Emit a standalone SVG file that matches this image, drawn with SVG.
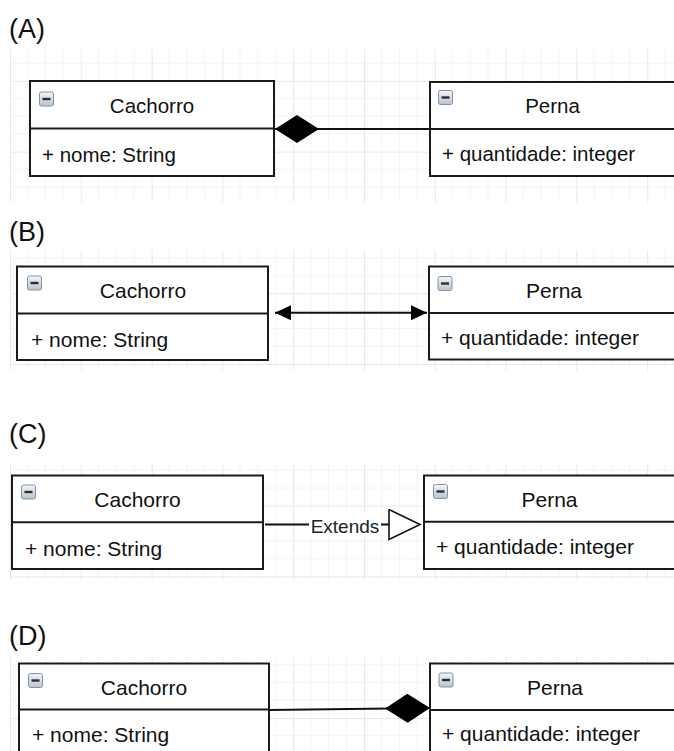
<svg xmlns="http://www.w3.org/2000/svg" width="674" height="751" viewBox="0 0 674 751">
<style>
.title{font-family:"Liberation Sans",Arial,sans-serif;font-size:27px;fill:#111}
.t{font-family:"Liberation Sans",Arial,sans-serif;font-size:21px;fill:#111}
.ta{font-family:"Liberation Sans",Arial,sans-serif;font-size:20.5px;fill:#111}
.box{fill:#fff;stroke:#1a1a1a;stroke-width:2}
.div{stroke:#1a1a1a;stroke-width:2}
.edge{fill:none;stroke:#111;stroke-width:2}
.lbl{font-family:"Liberation Sans",Arial,sans-serif;font-size:19px;fill:#222}
</style>
<defs>
<pattern id="grid" patternUnits="userSpaceOnUse" x="10" y="10" width="70.8" height="70.8">
<path d="M17.7 0V70.8M35.4 0V70.8M53.1 0V70.8M0 17.7H70.8M0 35.4H70.8M0 53.1H70.8" stroke="#f3f3f3" stroke-width="1" fill="none"/>
<path d="M0.5 0V70.8M0 0.5H70.8" stroke="#e8e8e8" stroke-width="1" fill="none"/>
</pattern>
<linearGradient id="ig" x1="0" y1="0" x2="0" y2="1">
<stop offset="0" stop-color="#f4f6f8"/>
<stop offset="1" stop-color="#b9c3cf"/>
</linearGradient>
<g id="minus">
<rect x="0.5" y="0.5" width="14" height="14" rx="2" fill="url(#ig)" stroke="#8192a6" stroke-width="1"/>
<rect x="3.5" y="6.3" width="8" height="2.4" fill="#2d2d2d"/>
</g>
<marker id="diamond" markerUnits="userSpaceOnUse" viewBox="0 0 44 28" refX="0" refY="14" markerWidth="44" markerHeight="28" orient="auto">
<polygon points="0,14 22,0 44,14 22,28" fill="#000"/>
</marker>
<marker id="diamondEnd" markerUnits="userSpaceOnUse" viewBox="0 0 45 29" refX="45" refY="14.5" markerWidth="45" markerHeight="29" orient="auto">
<polygon points="0,14.5 22.5,0 45,14.5 22.5,29" fill="#000"/>
</marker>
<marker id="arrow" markerUnits="userSpaceOnUse" viewBox="0 0 16 15" refX="16" refY="7.5" markerWidth="16" markerHeight="15" orient="auto-start-reverse">
<polygon points="0,0 16,7.5 0,15" fill="#000"/>
</marker>
<marker id="tri" markerUnits="userSpaceOnUse" viewBox="0 0 34 34" refX="1" refY="16" markerWidth="34" markerHeight="34" orient="auto">
<polygon points="1,1 1,31 32,16" fill="#fff" stroke="#111" stroke-width="1.6"/>
</marker>
</defs>
<rect width="674" height="751" fill="#fff"/>

<!-- grids -->
<rect x="10" y="49" width="664" height="153" fill="url(#grid)"/>
<rect x="10" y="250" width="664" height="120" fill="url(#grid)"/>
<rect x="10" y="463" width="664" height="117" fill="url(#grid)"/>
<rect x="10" y="657" width="664" height="94" fill="url(#grid)"/>

<!-- titles -->
<text class="title" x="9" y="38">(A)</text>
<text class="title" x="9" y="241">(B)</text>
<text class="title" x="9" y="443">(C)</text>
<text class="title" x="9" y="645">(D)</text>

<!-- Panel A -->
<g id="A-Cachorro">
<rect class="box" x="30" y="81" width="244" height="95"/>
<line class="div" x1="30" y1="128.5" x2="274" y2="128.5"/>
<use href="#minus" x="39" y="91.5"/>
<text class="ta" x="152" y="113" text-anchor="middle">Cachorro</text>
<text class="ta" x="42" y="162">+ nome: String</text>
</g>
<g id="A-Perna">
<rect class="box" x="430" y="82" width="260" height="94"/>
<line class="div" x1="430" y1="129" x2="690" y2="129"/>
<use href="#minus" x="438" y="90"/>
<text class="ta" x="552.5" y="112.5" text-anchor="middle">Perna</text>
<text class="ta" x="442" y="161">+ quantidade: integer</text>
</g>

<!-- Panel B -->
<g id="B-Cachorro">
<rect class="box" x="17" y="266.5" width="251" height="93.5"/>
<line class="div" x1="17" y1="313.5" x2="268" y2="313.5"/>
<use href="#minus" x="27" y="275.5"/>
<text class="t" x="143" y="297.5" text-anchor="middle">Cachorro</text>
<text class="t" x="31" y="346.5">+ nome: String</text>
</g>
<g id="B-Perna">
<rect class="box" x="429" y="266.5" width="260" height="93"/>
<line class="div" x1="429" y1="313" x2="689" y2="313"/>
<use href="#minus" x="437.5" y="276"/>
<text class="t" x="554" y="298" text-anchor="middle">Perna</text>
<text class="t" x="441" y="345">+ quantidade: integer</text>
</g>

<!-- Panel C -->
<g id="C-Cachorro">
<rect class="box" x="12" y="475.5" width="251" height="93.5"/>
<line class="div" x1="12" y1="522.3" x2="263" y2="522.3"/>
<use href="#minus" x="21" y="484.5"/>
<text class="t" x="137.5" y="506.5" text-anchor="middle">Cachorro</text>
<text class="t" x="25" y="555.5">+ nome: String</text>
</g>
<g id="C-Perna">
<rect class="box" x="424" y="475.5" width="260" height="93.5"/>
<line class="div" x1="424" y1="521.8" x2="684" y2="521.8"/>
<use href="#minus" x="433" y="484"/>
<text class="t" x="549.5" y="506.5" text-anchor="middle">Perna</text>
<text class="t" x="436" y="553.5">+ quantidade: integer</text>
</g>

<!-- Panel D -->
<g id="D-Cachorro">
<rect class="box" x="19" y="663.5" width="250" height="100"/>
<line class="div" x1="19" y1="709.5" x2="269" y2="709.5"/>
<use href="#minus" x="28" y="673"/>
<text class="t" x="144" y="694.5" text-anchor="middle">Cachorro</text>
<text class="t" x="32" y="741.5">+ nome: String</text>
</g>
<g id="D-Perna">
<rect class="box" x="430" y="663.5" width="260" height="100"/>
<line class="div" x1="430" y1="710" x2="690" y2="710"/>
<use href="#minus" x="438.5" y="672.5"/>
<text class="t" x="555" y="694.5" text-anchor="middle">Perna</text>
<text class="t" x="442" y="740.5">+ quantidade: integer</text>
</g>

<!-- connectors -->
<g id="connectors">
<path class="edge" d="M275 129 H430" marker-start="url(#diamond)"/>
<path class="edge" d="M275 312.8 H427" marker-start="url(#arrow)" marker-end="url(#arrow)"/>
<path class="edge" d="M265 524.5 H389" marker-end="url(#tri)"/>
<rect x="309" y="513" width="72" height="24" fill="#fff"/>
<text class="lbl" x="345" y="533" text-anchor="middle">Extends</text>
<path class="edge" d="M269 710 L430 708" marker-end="url(#diamondEnd)"/>
</g>
</svg>
